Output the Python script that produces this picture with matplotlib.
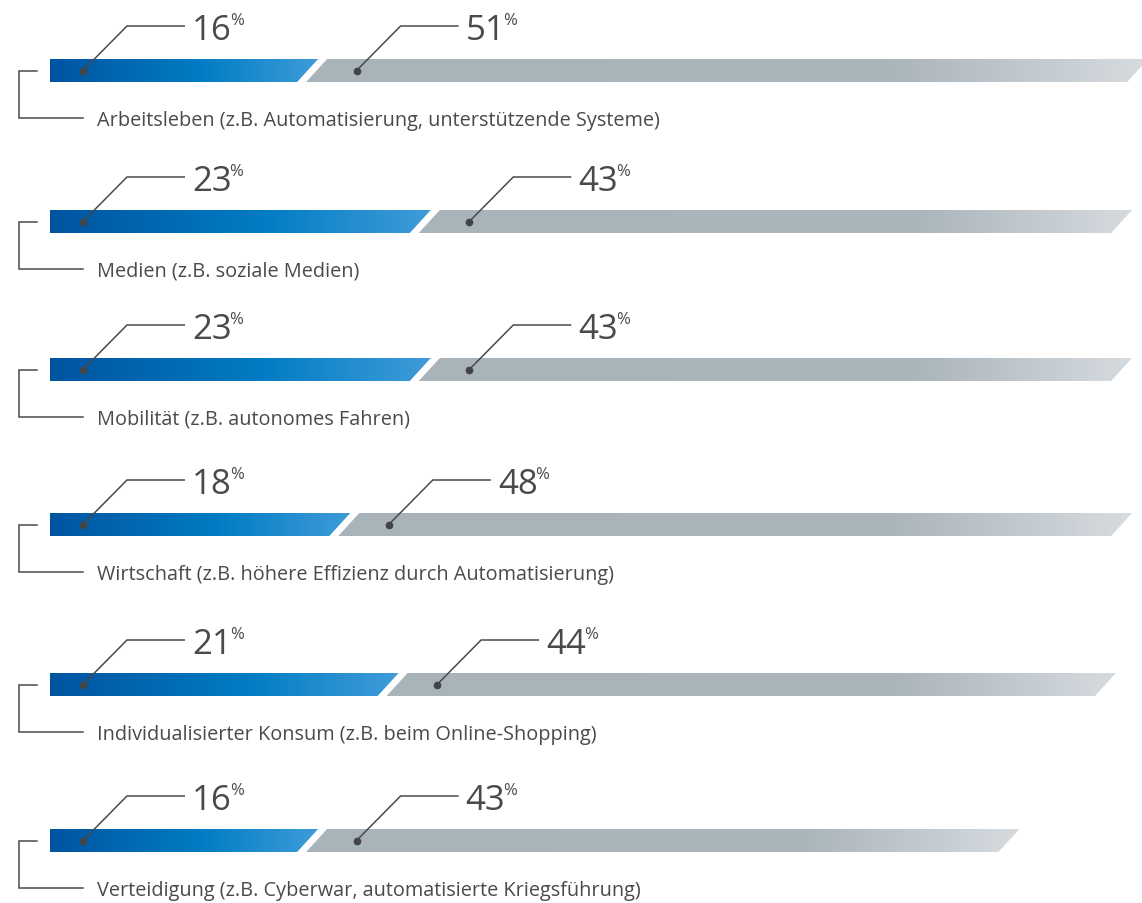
import numpy as np
import matplotlib.pyplot as plt
from matplotlib.patches import Polygon
from matplotlib.colors import LinearSegmentedColormap

# Anteile je Anwendungsfeld: blauer und grauer Abschnitt in Prozent
categories = [
    "Arbeitsleben (z.B. Automatisierung, unterstützende Systeme)",
    "Medien (z.B. soziale Medien)",
    "Mobilität (z.B. autonomes Fahren)",
    "Wirtschaft (z.B. höhere Effizienz durch Automatisierung)",
    "Individualisierter Konsum (z.B. beim Online-Shopping)",
    "Verteidigung (z.B. Cyberwar, automatisierte Kriegsführung)",
]
blue_values = [16, 23, 23, 18, 21, 16]
grey_values = [51, 43, 43, 48, 44, 43]

# Layout in Pixeln
W, H = 1142, 904
row_y = [71.5, 222.5, 370.5, 525.5, 685.5, 841.5]
x0 = 50
px_per_pct = 16.1
bar_h = 23
slant = 10.5
gap = 9
text_col = "#4a4a4a"
font = "Open Sans"

fig = plt.figure(figsize=(W / 100, H / 100), dpi=100)
ax = fig.add_axes([0, 0, 1, 1])

blue_cmap = LinearSegmentedColormap.from_list(
    "blau", [(0, "#0054a0"), (0.55, "#007bc3"), (1, "#3f9cd9")])
grey_cmap = LinearSegmentedColormap.from_list(
    "grau", [(0, "#a9b4ba"), (0.7, "#abb5bc"), (1, "#d6dbdf")])


def segment(xl, xr, yc, cmap, square_left=False):
    top, bot = yc - bar_h / 2, yc + bar_h / 2
    if square_left:
        verts = [(xl, top), (xr + slant, top), (xr - slant, bot), (xl, bot)]
        lo = xl
    else:
        verts = [(xl + slant, top), (xr + slant, top), (xr - slant, bot), (xl - slant, bot)]
        lo = xl - slant
    hi = xr + slant
    poly = Polygon(verts, closed=True, facecolor="none", edgecolor="none")
    ax.add_patch(poly)
    grad = np.linspace(0, 1, 256).reshape(1, -1)
    im = ax.imshow(grad, cmap=cmap, extent=(lo, hi, bot, top), aspect="auto",
                   interpolation="bilinear")
    im.set_clip_path(poly)


def callout(dot_x, yc, value):
    line_y = yc - 44.5
    ax.plot([dot_x, dot_x + 44, dot_x + 102], [yc, line_y, line_y],
            color=text_col, lw=1.1, solid_joinstyle="miter", solid_capstyle="butt")
    ax.plot(dot_x, yc, "o", ms=4.5, color="#444444")
    base = line_y + 13
    t = ax.text(dot_x + 109, base, str(value), fontsize=25, color=text_col,
                family=font, ha="left", va="baseline")
    fig.canvas.draw()
    bb = t.get_window_extent()
    x_end = ax.transData.inverted().transform((bb.x1, bb.y0))[0]
    ax.text(x_end - 2, base - 27, "%", fontsize=12, color=text_col,
            family=font, ha="left", va="top")


ax.set_xlim(0, W)
ax.set_ylim(H, 0)
ax.axis("off")

for cat, b, g, yc in zip(categories, blue_values, grey_values, row_y):
    blue_end = x0 + b * px_per_pct
    grey_start = blue_end + gap
    grey_end = grey_start + g * px_per_pct
    segment(x0, blue_end, yc, blue_cmap, square_left=True)
    segment(grey_start, grey_end, yc, grey_cmap)

    callout(x0 + 33, yc, b)
    callout(grey_start + 40, yc, g)

    # Klammer links und Beschriftung
    ly = yc + 47.5
    ax.plot([37, 19, 19, 83], [yc, yc, ly, ly], color=text_col, lw=1.1,
            solid_joinstyle="miter")
    ax.text(97, ly + 2, cat, fontsize=14.3, color=text_col, family=font,
            ha="left", va="center")

ax.set_xlim(0, W)
ax.set_ylim(H, 0)
fig.savefig("out.png", dpi=100)
